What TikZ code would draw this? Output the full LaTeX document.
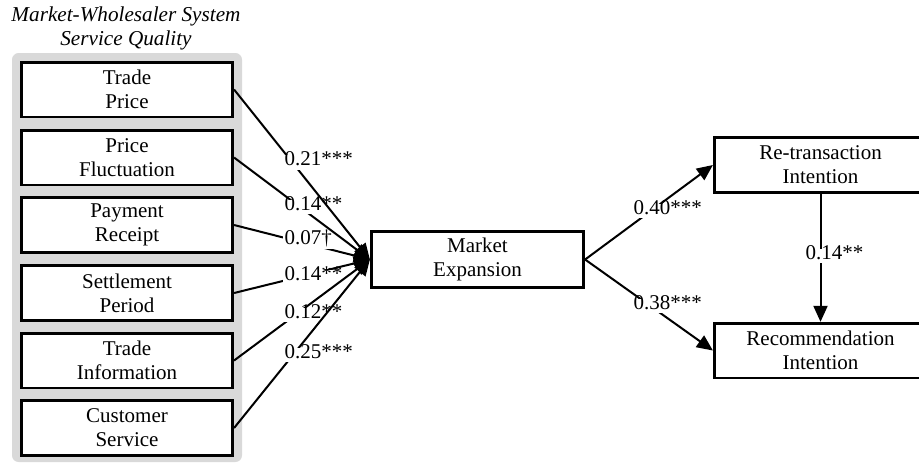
\documentclass[tikz,border=0pt]{standalone}
\usepackage{fontspec}
\setmainfont{Liberation Serif}
\usetikzlibrary{arrows.meta}
\definecolor{groupgray}{RGB}{217,217,217}
\tikzset{
  x=0.75pt, y=-0.75pt,
  every node/.style={font=\fontsize{15.75}{18}\selectfont},
  box/.style={draw=black, line width=2pt, fill=white, align=center,
    minimum width=158.6pt, minimum height=41pt, inner sep=0pt},
  rbox/.style={box, minimum width=159.4pt, minimum height=41pt},
  conn/.style={draw=black, line width=1.5pt, -{Triangle[length=12pt,width=10.5pt]}},
  lbl/.style={fill=white, inner sep=1pt, text height=0.7em, text depth=0.2em, anchor=west},
}
\begin{document}
\begin{tikzpicture}
\useasboundingbox (0,0) rectangle (919,462);
\clip (0,0) rectangle (919,462);
% group background
\fill[groupgray, rounded corners=5pt] (12,53) rectangle (242,462);
% title
\node[font=\fontsize{15.9}{18}\selectfont\itshape, align=center, inner sep=0pt] (title) at (126,28.2)
  {Market-Wholesaler System\\Service Quality};
% left boxes
\node[box] (tp) at (127,89.5) {Trade\\Price};
\node[box] (pf) at (127,157.5) {Price\\Fluctuation};
\node[box] (pr) at (127,225) {Payment\\Receipt};
\node[box] (sp) at (127,293) {Settlement\\Period};
\node[box] (ti) at (127,360.5) {Trade\\Information};
\node[box] (cs) at (127,428) {Customer\\Service};
% centre and right boxes
\node[rbox, minimum height=42.4pt] (me) at (477.5,259.5) {Market\\Expansion};
\node[rbox] (rt) at (820.5,165) {Re-transaction\\Intention};
\node[rbox] (ri) at (820.5,350.5) {Recommendation\\Intention};
% left connectors, drawn from the middle outwards
\draw[conn] (pr.east) -- (me.west);
\node[lbl] (l3) at (283,241.5) {0.07†};
\draw[conn] (sp.east) -- (me.west);
\node[lbl] (l4) at (283,277) {0.14**};
\draw[conn] (pf.east) -- (me.west);
\node[lbl] (l2) at (283,207) {0.14**};
\draw[conn] (ti.east) -- (me.west);
\node[lbl] (l5) at (283,315) {0.12**};
\draw[conn] (tp.east) -- (me.west);
\node[lbl] (l1) at (283,162.5) {0.21***};
\draw[conn] (cs.east) -- (me.west);
\node[lbl] (l6) at (283,355) {0.25***};
% right connectors
\draw[conn] (me.east) -- (rt.west);
\node[lbl] (l7) at (632,211) {0.40***};
\draw[conn] (me.east) -- (ri.west);
\node[lbl] (l8) at (632,306) {0.38***};
\draw[conn] (rt.south) -- (ri.north);
\node[lbl] (l9) at (804,256) {0.14**};
\end{tikzpicture}
\end{document}
